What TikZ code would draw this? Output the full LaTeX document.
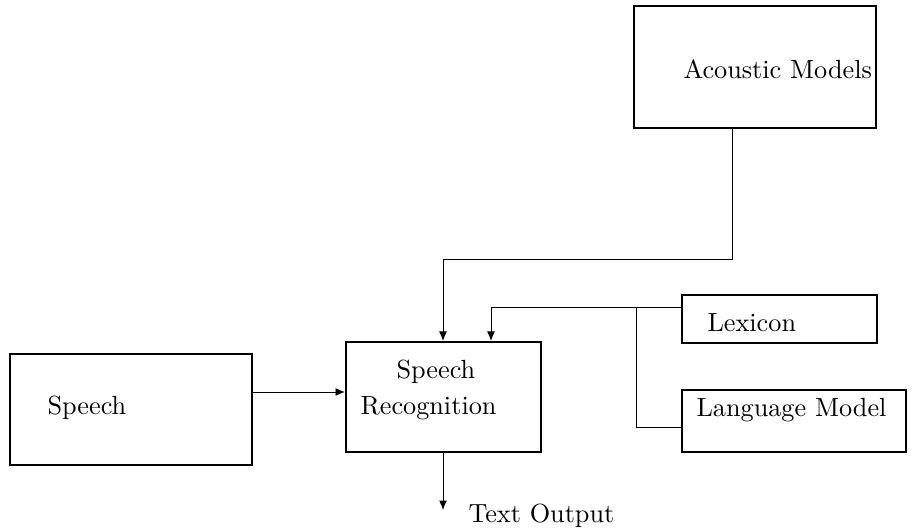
\documentclass[tikz,border=0pt]{standalone}
\usetikzlibrary{fit,arrows.meta}
\begin{document}
\begin{tikzpicture}[x=0.381pt,y=-0.381pt,
  box/.style={draw,line width=0.8pt,inner sep=0pt},
  lbl/.style={inner sep=0pt,anchor=base west},
  conn/.style={line width=0.35pt},
  arr/.style={conn,-{Latex[length=3.6pt,width=3pt]}}]
\useasboundingbox (0,0) rectangle (912,529);
% boxes
\node[box,fit={(634,6) (876,128)}] (am) {};
\node[box,fit={(682,295) (877,343)}] (lex) {};
\node[box,fit={(682,390) (906,452)}] (lm) {};
\node[box,fit={(10,354) (252,465)}] (sp) {};
\node[box,fit={(346,342) (541,452)}] (sr) {};
% labels
\node[lbl] (amt) at (683,79) {Acoustic Models};
\node[lbl] (lext) at (707,332) {Lexicon};
\node[lbl] (lmt) at (696,417) {Language Model};
\node[lbl] (spt) at (47,415) {Speech};
\node[lbl] (srt1) at (396,379) {Speech};
\node[lbl] (srt2) at (360,415) {Recognition};
\node[lbl] (out) at (468,523) {Text Output};
\coordinate (outend) at (443,510);
\coordinate (br) at (636,307);
% connectors
\draw[arr] (sp.east |- 0,392) -- (sr.west |- 0,392);
\draw[arr] (am.south -| 732,0) -- (732,259) -- (443,259) -- (sr.north -| 443,0);
\draw[arr] (lex.west |- 0,307) -- (491,307) -- (sr.north -| 491,0);
\draw[conn] (br) -- (636,427) -- (lm.west |- 0,427);
\draw[arr] (sr.south -| 443,0) -- (outend);
\end{tikzpicture}
\end{document}
